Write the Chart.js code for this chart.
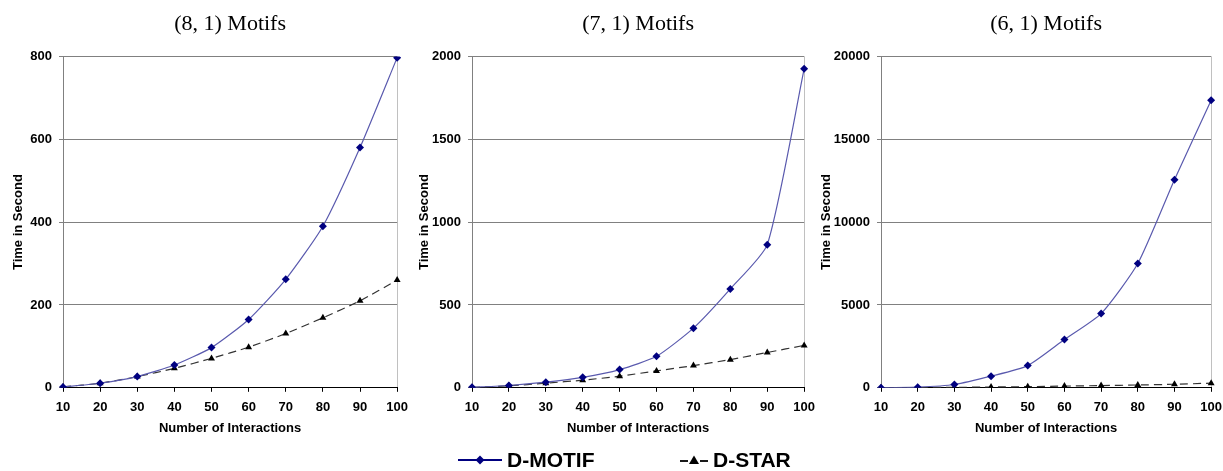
<!DOCTYPE html>
<html>
<head>
<meta charset="utf-8">
<script src="https://cdn.jsdelivr.net/npm/chart.js@4"></script>
<style>
  html, body { margin: 0; padding: 0; background: #fff; }
  body { width: 1223px; height: 471px; position: relative; overflow: hidden; }
  .box { position: absolute; top: 0; height: 441px; }
  .legend { position: absolute; left: 0; top: 447px; width: 1223px; height: 26px; font: bold 21px "Liberation Sans", Arial, sans-serif; color: #000; }
  .legend .item { position: absolute; top: 0; display: flex; align-items: center; height: 26px; white-space: nowrap; }
  .legend svg { display: block; margin-right: 5px; flex: none; }
</style>
</head>
<body>

<div class="box" id="box1" style="left:0;width:416px"><canvas id="chart1"></canvas></div>
<div class="box" id="box2" style="left:405px;width:418px"><canvas id="chart2"></canvas></div>
<div class="box" id="box3" style="left:810px;width:420px"><canvas id="chart3"></canvas></div>

<div class="legend">
  <div class="item" style="left:458px">
    <svg width="44" height="12"><line x1="0" y1="6" x2="44" y2="6" stroke="#000080" stroke-width="2"/><polygon points="22,1.5 26.5,6 22,10.5 17.5,6" fill="#000080"/></svg>
    <span>D-MOTIF</span>
  </div>
  <div class="item" style="left:680px">
    <svg width="28" height="14"><line x1="0" y1="8" x2="8" y2="8" stroke="#000" stroke-width="1.8"/><polygon points="14,2.5 19,11 9,11" fill="#000"/><line x1="20" y1="8" x2="28" y2="8" stroke="#000" stroke-width="1.8"/></svg>
    <span>D-STAR</span>
  </div>
</div>

<script>
// x 轴：交互数量
const interactions = [10, 20, 30, 40, 50, 60, 70, 80, 90, 100];

// (8, 1) Motifs
const motif81 = [2, 11, 27, 55, 97, 165, 262, 390, 580, 797];
const star81  = [2, 11, 27, 47, 71, 98, 131, 169, 210, 260];

// (7, 1) Motifs
const motif71 = [3, 14, 34, 63, 110, 190, 360, 597, 864, 1925];
const star71  = [2, 12, 28, 46, 70, 102, 134, 170, 213, 256];

// (6, 1) Motifs
const motif61 = [5, 40, 200, 700, 1340, 2915, 4480, 7500, 12560, 17360];
const star61  = [2, 12, 28, 46, 70, 102, 134, 170, 213, 280];

const titles  = ['(8, 1) Motifs', '(7, 1) Motifs', '(6, 1) Motifs'];
const yMaxes  = [800, 2000, 20000];
const ySteps  = [200, 500, 5000];

const SANS = '"Liberation Sans", Arial, sans-serif';
const SERIF = '"Liberation Serif", "Times New Roman", serif';

function renderPanel(canvasId, title, motif, star, yMax, yStep, axisW, titlePadTop) {
  const canvas = document.getElementById(canvasId);
  if (!canvas) return;

  return new Chart(canvas, {
    type: 'line',
    data: {
      labels: interactions,
      datasets: [{
        label: 'D-MOTIF',
        data: motif,
        borderColor: '#5a5aae',
        borderWidth: 1.2,
        tension: 0.2,
        pointStyle: 'rectRot',
        pointRadius: 4,
        pointBackgroundColor: '#000080',
        pointBorderColor: '#000080',
        pointBorderWidth: 0
      }, {
        label: 'D-STAR',
        data: star,
        borderColor: '#333',
        borderWidth: 1.2,
        borderDash: [8, 5],
        tension: 0.2,
        pointStyle: 'triangle',
        pointRadius: 4,
        pointBackgroundColor: '#000',
        pointBorderColor: '#000',
        pointBorderWidth: 0
      }]
    },
    options: {
      responsive: true,
      maintainAspectRatio: false,
      animation: false,
      layout: { padding: { left: 0, right: 0, top: 0, bottom: 1 } },
      plugins: {
        legend: { display: false },
        tooltip: { enabled: false },
        title: {
          display: true,
          fullSize: false,
          text: title,
          color: '#000',
          font: { family: SERIF, size: 22, weight: 'normal' },
          padding: { top: 11, bottom: 19 }
        }
      },
      scales: {
        x: {
          offset: false,
          grid: {
            color: ctx => ctx.index === interactions.length - 1 ? '#c0c0c0' : 'transparent',
            tickColor: '#000',
            tickLength: 4
          },
          border: { display: true, color: '#000' },
          ticks: {
            color: '#000',
            padding: 8,
            maxRotation: 0,
            autoSkip: false,
            font: { family: SANS, size: 13, weight: 'bold' }
          },
          title: {
            display: true,
            text: 'Number of Interactions',
            color: '#000',
            font: { family: SANS, size: 13, weight: 'bold' },
            padding: { top: -3, bottom: 4 }
          }
        },
        y: {
          min: 0,
          max: yMax,
          afterFit: scale => { scale.width = axisW; },
          grid: { color: '#808080', tickColor: '#808080', tickLength: 4 },
          border: { display: true, color: '#808080' },
          ticks: {
            stepSize: yStep,
            color: '#000',
            padding: 7,
            font: { family: SANS, size: 13, weight: 'bold' },
            callback: v => String(v)
          },
          title: {
            display: true,
            text: 'Time in Second',
            color: '#000',
            font: { family: SANS, size: 13, weight: 'bold' },
            padding: { top: titlePadTop, bottom: 0 }
          }
        }
      }
    }
  });
}

renderPanel('chart1', titles[0], motif81, star81, yMaxes[0], ySteps[0], 63, 11);
renderPanel('chart2', titles[1], motif71, star71, yMaxes[1], ySteps[1], 67, 12);
renderPanel('chart3', titles[2], motif61, star61, yMaxes[2], ySteps[2], 71, 9);
</script>
</body>
</html>
